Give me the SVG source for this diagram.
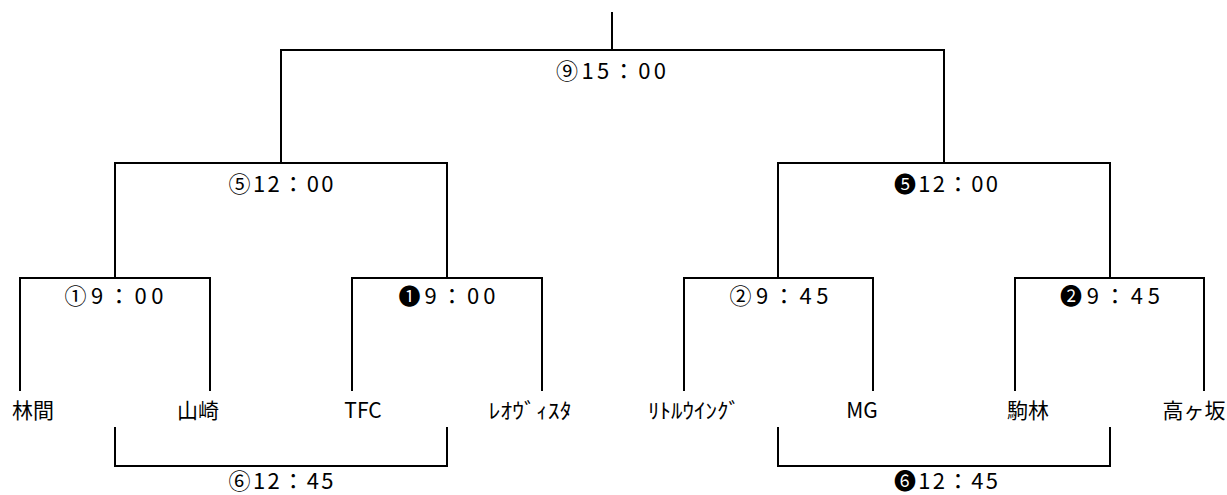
<svg xmlns="http://www.w3.org/2000/svg" width="1227" height="495" viewBox="0 0 1227 495">
<style>
.c{fill:none;stroke:#000;stroke-width:2;stroke-linecap:square}
text{font-family:"Noto Sans CJK JP","DejaVu Sans",sans-serif;font-size:21px;fill:#000;text-anchor:middle}
.m{font-size:22px}
</style>
<rect width="1227" height="495" fill="#fff"/>
<g id="connectors">
<path class="c" d="M612,13V50"/>
<path class="c" d="M281,163V50H944V163"/>
<path class="c" d="M115,278V163H447V278"/>
<path class="c" d="M778,278V163H1110V278"/>
<path class="c" d="M20,390V278H210V390"/>
<path class="c" d="M352,390V278H542V390"/>
<path class="c" d="M684,390V278H873V390"/>
<path class="c" d="M1015,390V278H1204V390"/>
<path class="c" d="M115,428V466H447V428"/>
<path class="c" d="M778,428V466H1110V428"/>
</g>
<g id="m9"><text class="m" x="611" y="79" textLength="110" lengthAdjust="spacing">⑨15：00</text></g>
<g id="m5"><text class="m" x="281" y="192" textLength="105" lengthAdjust="spacing">⑤12：00</text></g>
<g id="m5b"><text class="m" x="946" y="192" textLength="104" lengthAdjust="spacing">❺12：00</text></g>
<g id="m1"><text class="m" x="114" y="304" textLength="99" lengthAdjust="spacing">①9：00</text></g>
<g id="m1b"><text class="m" x="447" y="304" textLength="97" lengthAdjust="spacing">❶9：00</text></g>
<g id="m2"><text class="m" x="779" y="304" textLength="99" lengthAdjust="spacing">②9：45</text></g>
<g id="m2b"><text class="m" x="1110" y="304" textLength="100" lengthAdjust="spacing">❷9：45</text></g>
<g id="m6"><text class="m" x="281" y="489" textLength="105" lengthAdjust="spacing">⑥12：45</text></g>
<g id="m6b"><text class="m" x="946" y="489" textLength="104" lengthAdjust="spacing">❻12：45</text></g>
<g id="t1"><text x="33" y="418">林間</text></g>
<g id="t2"><text x="198" y="418">山崎</text></g>
<g id="t3"><text x="363" y="418">TFC</text></g>
<g id="t4"><text x="530" y="418" textLength="83" lengthAdjust="spacingAndGlyphs">ﾚｵｳﾞｨｽﾀ</text></g>
<g id="t5"><text x="694" y="418" textLength="92" lengthAdjust="spacingAndGlyphs">ﾘﾄﾙｳｲﾝｸﾞ</text></g>
<g id="t6"><text x="862" y="418">MG</text></g>
<g id="t7"><text x="1028" y="418">駒林</text></g>
<g id="t8"><text x="1194" y="418">高ヶ坂</text></g>
</svg>
